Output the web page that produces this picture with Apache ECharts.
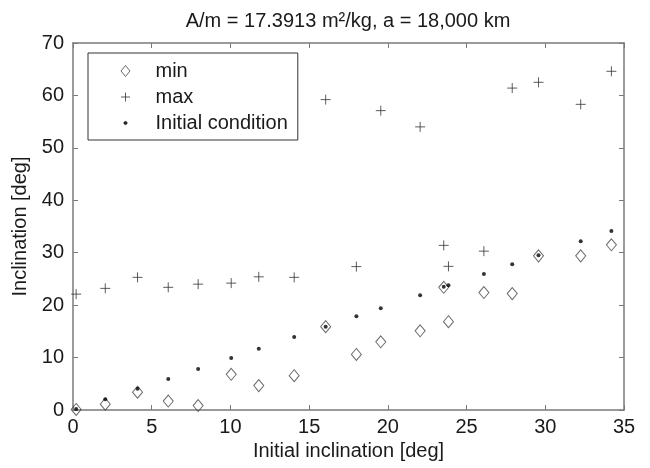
<!DOCTYPE html>
<html>
<head>
<meta charset="utf-8">
<script src="https://cdn.jsdelivr.net/npm/echarts@6/dist/echarts.min.js"></script>
<style>
  html, body { margin: 0; padding: 0; background: #fff; }
  #chart { width: 650px; height: 468px; }
</style>
</head>
<body>
<div id="chart"></div>
<script>
// initial inclination of each run [deg]
const initialIncl = [0.2, 2.05, 4.1, 6.05, 7.95, 10.05, 11.8, 14.05, 16.05, 18.0, 19.55, 22.05, 23.55, 23.85, 26.1, 27.9, 29.57, 32.25, 34.2]
const minIncl = [0.1, 1.1, 3.4, 1.7, 0.85, 6.8, 4.65, 6.55, 15.9, 10.6, 13.0, 15.1, 23.4, 16.85, 22.4, 22.2, 29.4, 29.4, 31.5]
const maxIncl = [22.1, 23.2, 25.3, 23.4, 24.0, 24.2, 25.4, 25.3, 59.2, 27.35, 57.1, 54.0, 31.4, 27.4, 30.3, 61.4, 62.5, 58.3, 64.6]
const initCond = [0.2, 2.05, 4.05, 5.9, 7.8, 9.9, 11.7, 13.9, 15.9, 17.9, 19.4, 21.9, 23.5, 23.8, 25.95, 27.8, 29.5, 32.2, 34.15]

const xTicks = [0, 35, 5]
const yTicks = [0, 70, 10]

const FONT = '"Liberation Sans", Arial, sans-serif'
const TEXT = '#1a1a1a'
const AXIS = '#7a7a7a'

const diamondPath = 'path://M5 0L10 6L5 12L0 6Z'
const plusPath = 'path://M5 0L5 10M0 5L10 5'

// legend icons drawn in a 50x12 box (same as itemWidth x itemHeight) so the glyph sits centred
const LEG_BOX = 'M0 0M50 12'
const legendIcons = {
  min: 'path://' + LEG_BOX + 'M25 0.5L29.5 6L25 11.5L20.5 6Z',
  max: 'path://' + LEG_BOX + 'M25 1.5L25 10.5M20.5 6L29.5 6',
  dot: 'path://' + LEG_BOX + 'M23.4 6L23.9 4.9L25 4.4L26.1 4.9L26.6 6L26.1 7.1L25 7.6L23.9 7.1Z',
}

const pairs = (ys) => initialIncl.map((x, i) => [x, ys[i]])

function axisBase(min, max, interval) {
  return {
    type: 'value', min, max, interval,
    axisLine: { show: true, onZero: false, lineStyle: { color: AXIS, width: 1.5 } },
    axisTick: { show: true, inside: true, length: 5, lineStyle: { color: AXIS, width: 1 } },
    splitLine: { show: false },
  }
}

const chart = echarts.init(document.getElementById('chart'), null, { renderer: 'canvas' })

chart.setOption({
  backgroundColor: '#fff',
  animation: false,
  textStyle: { fontFamily: FONT },
  title: {
    text: 'A/m = 17.3913 m²/kg, a = 18,000 km',
    left: 348, top: 11, padding: 0, textAlign: 'center',
    textStyle: { fontFamily: FONT, fontSize: 20, fontWeight: 'normal', color: TEXT },
  },
  grid: { left: 73, right: 26, top: 43, bottom: 58 },
  legend: {
    orient: 'vertical', left: 88, top: 53,
    padding: [8, 10, 7, 12], itemWidth: 50, itemHeight: 12, itemGap: 6,
    borderColor: '#333', borderWidth: 1, backgroundColor: '#fff',
    selectedMode: false,
    itemStyle: { borderWidth: 1 },
    textStyle: { fontFamily: FONT, fontSize: 20, color: TEXT },
    data: [
      { name: 'min', icon: legendIcons.min },
      { name: 'max', icon: legendIcons.max },
      { name: 'Initial condition', icon: legendIcons.dot },
    ],
  },
  xAxis: [
    {
      ...axisBase(...xTicks), position: 'bottom',
      axisLabel: { fontFamily: FONT, fontSize: 20, color: TEXT, margin: 7 },
      name: 'Initial inclination [deg]', nameLocation: 'middle', nameGap: 28,
      nameTextStyle: { fontFamily: FONT, fontSize: 20, color: TEXT },
    },
    { ...axisBase(...xTicks), position: 'top', axisLabel: { show: false } },
  ],
  yAxis: [
    {
      ...axisBase(...yTicks), position: 'left',
      axisLabel: { fontFamily: FONT, fontSize: 20, color: TEXT, margin: 9 },
      name: 'Inclination [deg]', nameLocation: 'middle', nameGap: 35,
      nameTextStyle: { fontFamily: FONT, fontSize: 20, color: TEXT },
    },
    { ...axisBase(...yTicks), position: 'right', axisLabel: { show: false } },
  ],
  series: [
    {
      name: 'min', type: 'scatter', symbol: diamondPath, symbolSize: [10, 12],
      itemStyle: { color: 'rgba(0,0,0,0)', borderColor: '#444', borderWidth: 1 },
      data: pairs(minIncl), z: 2,
    },
    {
      name: 'max', type: 'scatter', symbol: plusPath, symbolSize: 10,
      itemStyle: { color: 'rgba(0,0,0,0)', borderColor: '#333', borderWidth: 1 },
      data: pairs(maxIncl), z: 3,
    },
    {
      name: 'Initial condition', type: 'scatter', symbol: 'circle', symbolSize: 4,
      itemStyle: { color: '#000', borderColor: '#000', borderWidth: 0 },
      data: pairs(initCond), z: 4,
    },
  ],
})
</script>
</body>
</html>
